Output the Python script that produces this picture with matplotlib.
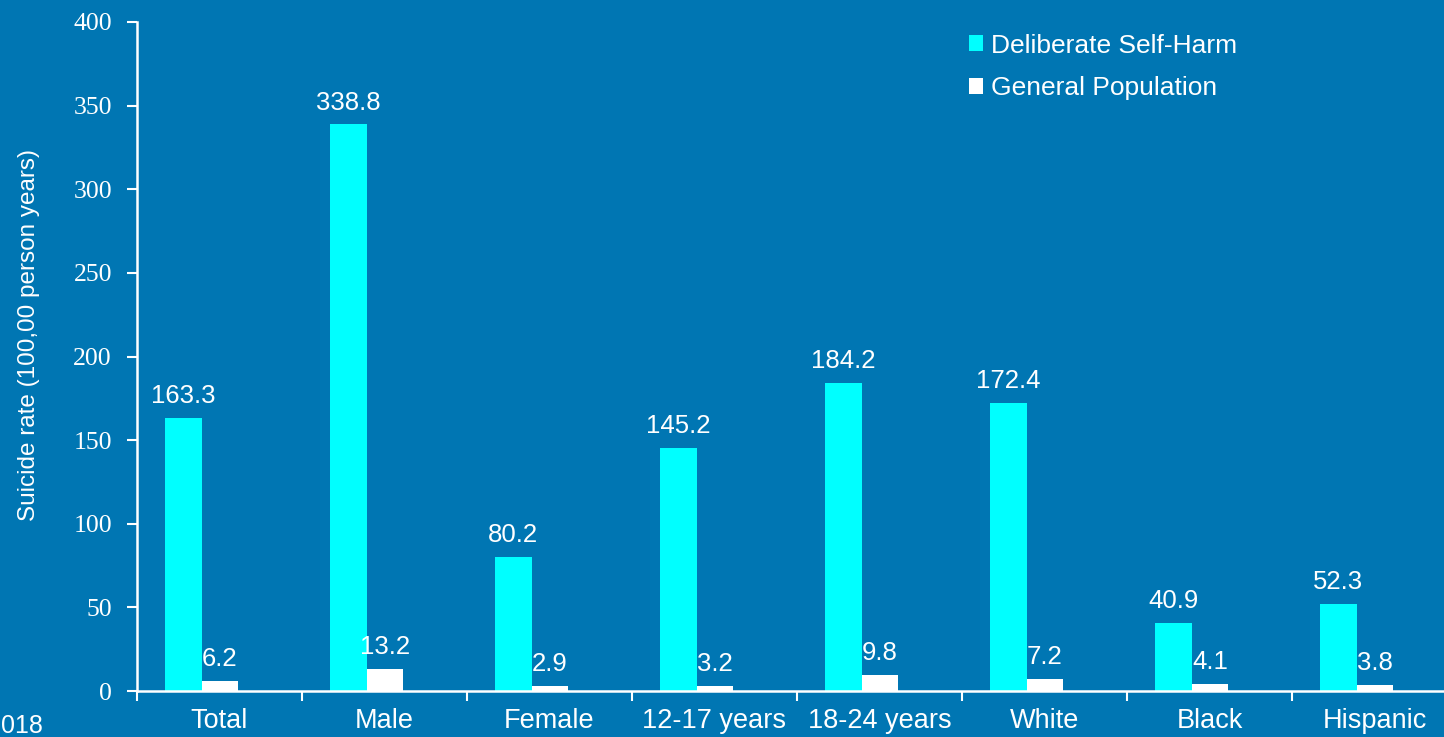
import numpy as np
import matplotlib.pyplot as plt

categories = ['Total', 'Male', 'Female', '12-17 years', '18-24 years', 'White', 'Black', 'Hispanic']
self_harm = [163.3, 338.8, 80.2, 145.2, 184.2, 172.4, 40.9, 52.3]
general = [6.2, 13.2, 2.9, 3.2, 9.8, 7.2, 4.1, 3.8]
yticks = [0, 50, 100, 150, 200, 250, 300, 350, 400]

bg = '#0076B3'
cyan = '#00FFFF'
plt.rcParams['font.family'] = ['Liberation Sans', 'DejaVu Sans']

fig = plt.figure(figsize=(14.44, 7.37), dpi=100, facecolor=bg)
ax = fig.add_axes([137 / 1444, 1 - 691 / 737, 1 - 137 / 1444, (691 - 22) / 737])
ax.set_facecolor(bg)

x = np.arange(len(categories))
w = 0.222
b1 = ax.bar(x - 0.108 - w / 2, self_harm, w, color=cyan, label='Deliberate Self-Harm')
b2 = ax.bar(x - 0.108 + w / 2, general, w, color='white', label='General Population')

for bars, vals in ((b1, self_harm), (b2, general)):
    for r, v in zip(bars, vals):
        ax.annotate(f'{v:.1f}', (r.get_x() + r.get_width() / 2, v), xytext=(0, 7),
                    textcoords='offset points', ha='center', va='bottom',
                    color='white', fontsize=18.5)

ax.set_yticks(yticks)
ax.set_yticklabels([str(t) for t in yticks], family='Liberation Serif', fontsize=18.5, color='white')
ax.tick_params(axis='y', direction='out', length=7, width=1.5, color='white', pad=11)

ax.set_xticks(np.arange(len(categories) + 1) - 0.5)
ax.set_xticklabels([])
ax.tick_params(axis='x', which='major', direction='out', length=7, width=1.5, color='white')
ax.set_xticks(x, minor=True)
ax.set_xticklabels(categories, minor=True, fontsize=19.5, color='white')
ax.tick_params(axis='x', which='minor', length=0, pad=12)

ax.set_xlim(-0.5, (1444 - 137) / 165 - 0.5)
ax.set_ylim(0, 400)

for s in ('top', 'right'):
    ax.spines[s].set_visible(False)
for s in ('left', 'bottom'):
    ax.spines[s].set_color('white')
    ax.spines[s].set_linewidth(1.8)

ax.set_ylabel('Suicide rate (100,00 person years)', color='white', fontsize=17.5)
ax.yaxis.set_label_coords(-0.074, 0.532)

leg = ax.legend(loc='upper left', bbox_to_anchor=(945 / 1444, 1 - 10 / 737),
                bbox_transform=fig.transFigure, frameon=False, fontsize=19,
                handlelength=0.55, handleheight=0.55, handletextpad=0.3, labelspacing=0.7)
for t in leg.get_texts():
    t.set_color('white')

fig.text(1 / 1444, 1 - 726 / 737, '018', color='white', fontsize=18, ha='left', va='center')

fig.savefig('out.png', dpi=100, facecolor=bg)
